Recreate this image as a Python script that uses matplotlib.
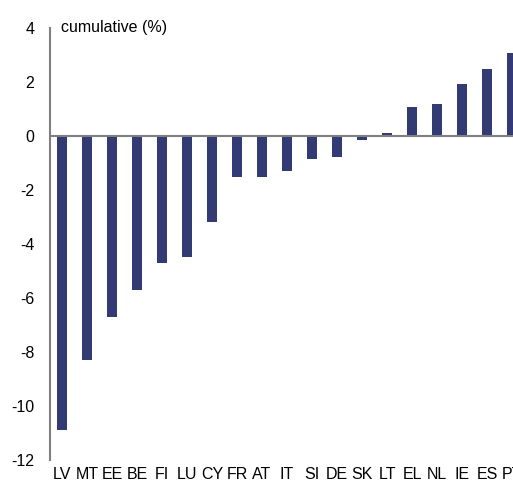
import matplotlib
matplotlib.use('Agg')
import matplotlib.pyplot as plt

plt.rcParams['font.family'] = ['Liberation Sans', 'DejaVu Sans']

countries = ['LV', 'MT', 'EE', 'BE', 'FI', 'LU', 'CY', 'FR', 'AT', 'IT',
             'SI', 'DE', 'SK', 'LT', 'EL', 'NL', 'IE', 'ES', 'PT']
cumulative = [-10.9, -8.3, -6.7, -5.7, -4.7, -4.5, -3.17, -1.52, -1.52, -1.3,
              -0.87, -0.79, -0.13, 0.1, 1.07, 1.2, 1.93, 2.48, 3.08]
y_ticks = [4, 2, 0, -2, -4, -6, -8, -10, -12]

fig = plt.figure(figsize=(5.13, 4.83), dpi=100)
# axes run a little past the right edge, PT is cut off as in the source
ax = fig.add_axes([49.5 / 513, 1 - 460 / 483, 475 / 513, 432 / 483])

x = range(len(countries))
ax.bar(x, cumulative, width=0.4, color='#333b74', zorder=2)
ax.axhline(0, color='#808080', lw=1.5, zorder=3)

ax.set_xlim(-0.5, 18.5)
ax.set_ylim(-12, 4)
ax.set_yticks(y_ticks)
ax.set_yticklabels([str(v) for v in y_ticks])
ax.set_xticks(list(x))
ax.set_xticklabels(countries)
ax.tick_params(axis='y', length=0, pad=11, labelsize=11.5)
ax.tick_params(axis='x', length=0, pad=5, labelsize=11.5)

for s in ['top', 'right', 'bottom']:
    ax.spines[s].set_visible(False)
ax.spines['left'].set_color('#808080')
ax.spines['left'].set_linewidth(1.5)

ax.text(-0.04, 4, 'cumulative (%)', fontsize=11.5, va='center', ha='left')

fig.savefig('out.png', dpi=100)
